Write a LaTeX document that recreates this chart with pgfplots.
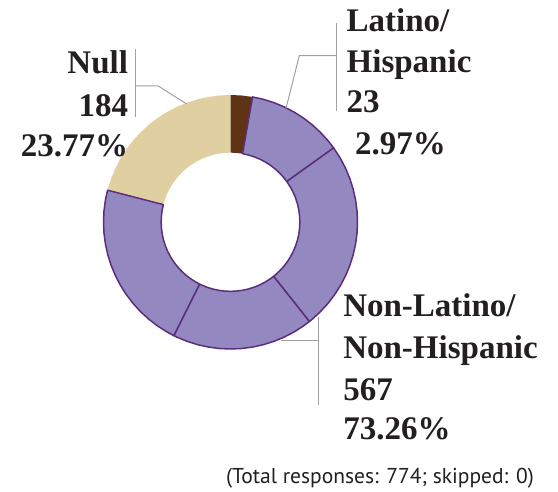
\documentclass[border=0pt]{standalone}
\usepackage{fontspec}
\setmainfont{Liberation Serif}
\newfontfamily\footfont{PT Sans}
\usepackage{pgfplots}
\pgfplotsset{compat=1.18}
\definecolor{pfill}{HTML}{9488C0}
\definecolor{pline}{HTML}{5D2D7D}
\definecolor{brownc}{HTML}{5E3414}
\definecolor{beige}{HTML}{E0CFA0}
\definecolor{leader}{HTML}{A0A0A0}
\definecolor{txt}{HTML}{231F20}
\begin{document}
\begin{tikzpicture}
\useasboundingbox (0,0) rectangle (558bp,492bp);
\begin{axis}[
  at={(230.5bp,270bp)}, anchor=center,
  scale only axis, width=254bp, height=254bp,
  xmin=-1, xmax=1, ymin=-1, ymax=1,
  hide axis, clip=false,
  data cs=polar,
]
% Null 184 (23.77%)
\addplot[fill=beige, draw=none] coordinates {
 (165.5,1) (160,1) (155,1) (150,1) (145,1) (140,1) (135,1) (130,1) (125,1) (120,1) (115,1) (110,1) (105,1) (100,1) (95,1) (90,1)
 (90,0.546) (95,0.546) (100,0.546) (105,0.546) (110,0.546) (115,0.546) (120,0.546) (125,0.546) (130,0.546) (135,0.546) (140,0.546) (145,0.546) (150,0.546) (155,0.546) (160,0.546) (165.5,0.546)
} -- cycle;
% Latino/Hispanic 23 (2.97%)
\addplot[fill=brownc, draw=none] coordinates {
 (90,1) (85,1) (80,1) (80,0.546) (85,0.546) (90,0.546)
} -- cycle;
% Non-Latino/Non-Hispanic 567 (73.26%), drawn in four segments
\addplot[fill=pfill, draw=pline, line width=1.5bp, line join=round] coordinates {
 (80,1) (75,1) (70,1) (65,1) (60,1) (55,1) (50,1) (45,1) (40,1) (35.7,1)
 (35.7,0.546) (40,0.546) (45,0.546) (50,0.546) (55,0.546) (60,0.546) (65,0.546) (70,0.546) (75,0.546) (80,0.546)
} -- cycle;
\addplot[fill=pfill, draw=pline, line width=1.5bp, line join=round] coordinates {
 (35.7,1) (30,1) (25,1) (20,1) (15,1) (10,1) (5,1) (0,1) (-5,1) (-10,1) (-15,1) (-20,1) (-25,1) (-30,1) (-35,1) (-40,1) (-45,1) (-50,1) (-51.6,1)
 (-51.6,0.546) (-50,0.546) (-45,0.546) (-40,0.546) (-35,0.546) (-30,0.546) (-25,0.546) (-20,0.546) (-15,0.546) (-10,0.546) (-5,0.546) (0,0.546) (5,0.546) (10,0.546) (15,0.546) (20,0.546) (25,0.546) (30,0.546) (35.7,0.546)
} -- cycle;
\addplot[fill=pfill, draw=pline, line width=1.5bp, line join=round] coordinates {
 (-51.6,1) (-55,1) (-60,1) (-65,1) (-70,1) (-75,1) (-80,1) (-85,1) (-90,1) (-95,1) (-100,1) (-105,1) (-110,1) (-115,1) (-116.5,1)
 (-116.5,0.546) (-115,0.546) (-110,0.546) (-105,0.546) (-100,0.546) (-95,0.546) (-90,0.546) (-85,0.546) (-80,0.546) (-75,0.546) (-70,0.546) (-65,0.546) (-60,0.546) (-55,0.546) (-51.6,0.546)
} -- cycle;
\addplot[fill=pfill, draw=pline, line width=1.5bp, line join=round] coordinates {
 (-116.5,1) (-120,1) (-125,1) (-130,1) (-135,1) (-140,1) (-145,1) (-150,1) (-155,1) (-160,1) (-165,1) (-170,1) (-175,1) (-180,1) (-185,1) (-190,1) (-194.5,1)
 (-194.5,0.546) (-190,0.546) (-185,0.546) (-180,0.546) (-175,0.546) (-170,0.546) (-165,0.546) (-160,0.546) (-155,0.546) (-150,0.546) (-145,0.546) (-140,0.546) (-135,0.546) (-130,0.546) (-125,0.546) (-120,0.546) (-116.5,0.546)
} -- cycle;
\end{axis}
% leader lines
\draw[leader, line width=1bp] (135bp,443bp) -- (135bp,375bp);
\draw[leader, line width=1bp] (135bp,406bp) -- (158.3bp,406bp) -- (186.7bp,388bp);
\draw[leader, line width=1bp] (336bp,469bp) -- (336bp,381bp);
\draw[leader, line width=1bp] (336bp,436.3bp) -- (299.3bp,436.3bp) -- (286bp,383.7bp);
\draw[leader, line width=1bp] (318.3bp,175.3bp) -- (318.3bp,87bp);
\draw[leader, line width=1bp] (318.3bp,151.3bp) -- (280.7bp,151.3bp);
% labels
\begin{scope}[every node/.style={inner sep=0pt, outer sep=0pt, text=txt, font=\fontsize{33bp}{40bp}\selectfont\bfseries}]
\node[anchor=base east] at (128bp,418bp) {Null};
\node[anchor=base east] at (128bp,375bp) {184};
\node[anchor=base east] at (128bp,335bp) {23.77\%};
\node[anchor=base west] at (346.7bp,460.3bp) {Latino/};
\node[anchor=base west] at (346.7bp,419.3bp) {Hispanic};
\node[anchor=base west] at (346.7bp,379bp) {23};
\node[anchor=base west] at (355bp,337bp) {2.97\%};
\node[anchor=base west] at (343.3bp,175.3bp) {Non-Latino/};
\node[anchor=base west] at (343.3bp,133.7bp) {Non-Hispanic};
\node[anchor=base west] at (343.3bp,91.3bp) {567};
\node[anchor=base west] at (343.3bp,52bp) {73.26\%};
\end{scope}
\node[anchor=base east, inner sep=0pt, text=txt, font=\footfont\fontsize{21.5bp}{26bp}\selectfont] at (534bp,9bp) {(Total responses: 774; skipped: 0)};
\end{tikzpicture}
\end{document}
